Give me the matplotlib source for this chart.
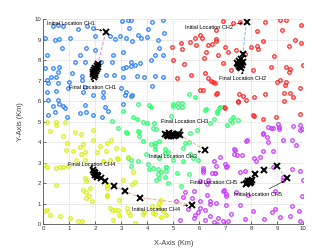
import numpy as np
import matplotlib
matplotlib.use('Agg')
import matplotlib.pyplot as plt

plt.rcParams['font.family'] = ['Liberation Sans', 'DejaVu Sans']

# sensor nodes of each cluster (km)
ch1_nodes = [(0.38, 9.67), (0.58, 9.7), (0.77, 9.67), (1.35, 9.5), (1.67, 9.65), (1.92, 9.55), (3.03, 9.9),
             (3.27, 9.98), (3.31, 9.55), (0.06, 9.06), (0.45, 9.0), (0.62, 9.05), (1.03, 9.1), (1.99, 9.2),
             (2.56, 9.2), (2.76, 9.05), (2.97, 9.18), (3.18, 9.06), (3.4, 8.93), (0.74, 8.57), (1.64, 8.57),
             (1.99, 8.49), (3.08, 8.38), (2.69, 8.25), (0.13, 8.24), (1.41, 8.24), (1.22, 7.92), (1.6, 7.92),
             (2.24, 7.92), (2.63, 7.92), (3.36, 7.92), (0.36, 7.64), (0.62, 7.67), (0.06, 7.64), (3.08, 7.6),
             (3.2, 7.67), (0.55, 7.4), (0.29, 7.19), (1.09, 7.35), (1.51, 7.24), (2.41, 7.27), (2.73, 7.27),
             (3.08, 7.19), (0.49, 7.19), (0.13, 7.03), (1.51, 7.03), (0.19, 6.86), (0.58, 6.86), (1.0, 6.91),
             (0.96, 6.65), (1.6, 6.7), (3.01, 6.62), (0.13, 6.45), (0.49, 6.49), (1.54, 6.45), (2.31, 6.42),
             (3.18, 6.45), (1.92, 6.29), (2.31, 6.21), (3.14, 6.29), (3.4, 6.29), (0.19, 6.05), (0.58, 6.05),
             (0.62, 5.88), (0.77, 5.77), (0.83, 5.67), (0.38, 5.77), (1.6, 5.8), (2.37, 5.72), (3.08, 5.85),
             (0.45, 5.45), (0.19, 5.32), (1.41, 5.4), (1.64, 5.45), (1.92, 5.32), (2.28, 5.24), (0.9, 5.2),
             (2.5, 5.5), (3.39, 9.95), (4.18, 9.84), (4.61, 9.97), (3.64, 9.25), (3.75, 9.09), (4.0, 9.14),
             (4.03, 9.54), (4.44, 8.6), (4.31, 8.24), (4.13, 8.03), (3.71, 7.87), (3.36, 7.72), (3.52, 7.76),
             (3.62, 7.22), (3.88, 7.19), (4.31, 7.22), (4.18, 6.75), (3.39, 6.25), (4.65, 9.3), (4.6, 8.27),
             (4.6, 7.2), (4.4, 9.0)]

ch2_nodes = [(6.91, 9.9), (7.3, 9.79), (7.56, 9.84), (8.52, 9.84), (9.09, 9.97), (9.33, 9.95), (9.93, 9.71),
             (6.66, 9.46), (8.22, 9.4), (9.18, 9.46), (8.45, 8.93), (9.67, 8.97), (6.63, 8.93), (9.45, 8.7),
             (9.93, 8.82), (6.98, 8.62), (8.0, 8.62), (8.22, 8.7), (8.26, 8.52), (7.11, 8.41), (7.75, 8.28),
             (8.88, 8.21), (6.72, 8.25), (7.43, 8.5), (9.99, 7.76), (9.35, 7.67), (9.5, 7.59), (6.91, 7.84),
             (8.07, 7.51), (8.75, 7.67), (7.24, 7.51), (6.53, 6.94), (9.45, 7.43), (9.09, 7.02), (8.99, 6.94),
             (9.29, 6.81), (9.33, 6.94), (9.86, 6.62), (6.66, 6.34), (7.53, 6.34), (7.81, 6.05), (8.09, 6.21),
             (8.52, 6.34), (9.26, 6.38), (9.5, 6.38), (9.6, 6.21), (7.68, 6.26), (9.25, 6.0), (7.49, 6.0),
             (9.86, 5.35), (6.98, 5.68), (8.07, 5.32), (8.45, 5.15), (8.97, 5.24), (4.95, 8.62), (5.31, 8.86),
             (5.34, 8.53), (5.63, 8.89), (5.82, 9.09), (5.89, 8.76), (6.05, 9.22), (6.11, 9.09), (6.34, 8.73),
             (6.49, 8.81), (6.66, 9.02), (6.27, 8.41), (6.18, 8.11), (4.99, 8.03), (5.41, 7.79), (5.7, 7.27),
             (5.16, 7.11), (6.21, 7.35), (6.34, 7.14), (6.47, 6.98), (6.62, 6.86), (6.05, 6.54), (6.14, 6.54),
             (6.7, 6.38), (6.96, 5.69), (7.48, 5.97), (8.1, 5.27)]

ch3_nodes = [(3.66, 5.86), (4.08, 5.81), (4.13, 5.7), (5.0, 5.76), (5.2, 5.73), (5.33, 5.89), (5.62, 6.35),
             (5.84, 6.18), (6.22, 5.56), (6.67, 5.4), (6.77, 5.65), (3.08, 5.53), (3.47, 5.24), (3.59, 5.11),
             (3.85, 4.99), (4.0, 4.91), (4.27, 4.91), (4.9, 5.27), (2.63, 5.04), (3.21, 4.46), (3.7, 4.47),
             (4.34, 4.62), (5.65, 4.46), (5.9, 4.59), (6.42, 4.91), (6.57, 5.11), (7.06, 4.83), (7.25, 4.99),
             (7.31, 5.24), (3.85, 4.07), (4.3, 3.81), (4.47, 4.07), (5.45, 3.94), (5.62, 4.02), (5.39, 3.7),
             (4.68, 3.45), (5.65, 3.42), (5.39, 3.09), (5.77, 3.21), (4.08, 2.67), (4.43, 2.67), (4.72, 2.77),
             (4.98, 3.13), (3.27, 3.21), (5.62, 2.44), (5.97, 3.12), (3.64, 4.52), (3.67, 4.28), (4.22, 4.68),
             (4.16, 3.9), (4.7, 3.67), (4.8, 3.54), (4.52, 2.54), (5.16, 2.49), (5.31, 1.84), (4.8, 2.0),
             (4.35, 2.16), (3.39, 3.14), (3.39, 2.81), (3.64, 3.06), (2.89, 4.7), (3.18, 4.5), (4.3, 3.94),
             (4.3, 3.66), (3.97, 3.4), (4.46, 3.2), (4.04, 2.91), (4.23, 2.72), (4.42, 2.42), (4.68, 2.31),
             (4.46, 2.23), (4.72, 2.8), (4.74, 2.59), (5.0, 5.85), (5.2, 5.9), (5.35, 5.7), (6.25, 5.6),
             (6.8, 5.7), (6.7, 5.5), (7.2, 5.07), (7.5, 5.07)]

ch4_nodes = [(0.13, 4.97), (0.49, 4.97), (0.83, 5.0), (0.51, 4.81), (0.26, 4.52), (1.22, 4.49), (1.44, 4.39),
             (0.77, 4.28), (0.9, 3.95), (1.54, 3.9), (1.92, 4.11), (0.87, 3.63), (1.15, 3.58), (1.41, 3.74),
             (1.44, 3.41), (1.6, 3.54), (2.05, 3.54), (2.18, 3.79), (2.44, 3.95), (2.41, 3.58), (2.79, 3.71),
             (3.05, 3.67), (0.02, 2.89), (0.13, 2.76), (0.49, 2.73), (0.64, 2.76), (0.77, 2.76), (0.96, 2.81),
             (1.28, 3.14), (1.6, 3.14), (2.31, 3.09), (2.56, 3.14), (2.88, 3.19), (0.51, 1.92), (1.6, 2.24),
             (1.64, 2.08), (1.54, 1.67), (1.64, 1.56), (1.79, 1.75), (1.77, 1.35), (1.64, 1.27), (2.44, 1.92),
             (2.44, 1.75), (0.02, 0.62), (0.13, 0.7), (0.26, 0.45), (0.64, 0.37), (1.03, 0.29), (1.35, 0.13),
             (1.51, 0.13), (2.56, 0.78), (2.76, 0.7), (2.92, 0.45), (3.21, 0.78), (3.33, 0.45), (1.86, 1.14),
             (2.44, 1.43), (1.92, 4.59), (2.6, 4.1), (2.82, 3.2), (3.27, 3.29), (3.05, 2.15), (3.44, 2.55),
             (3.53, 2.07), (2.46, 1.38), (2.92, 1.17), (2.63, 0.68), (2.86, 0.68), (3.27, 0.57), (3.85, 0.47),
             (3.53, 0.05), (4.3, 0.47), (4.42, 0.85), (4.55, 1.17), (4.62, 0.63), (4.46, 1.04), (4.17, 0.88),
             (4.72, 0.44), (4.55, 0.33), (3.4, 1.94), (3.87, 0.6), (4.23, 0.52), (2.69, 0.2)]

ch5_nodes = [(9.03, 4.88), (9.89, 4.84), (9.89, 4.6), (8.77, 4.68), (8.45, 4.39), (8.61, 4.23), (8.65, 4.0),
             (9.22, 4.11), (9.58, 4.11), (9.71, 3.84), (7.81, 4.03), (7.36, 3.62), (7.66, 3.38), (8.45, 3.58),
             (8.11, 3.22), (8.17, 3.09), (8.32, 3.25), (8.84, 3.58), (7.07, 2.81), (9.58, 2.7), (9.89, 2.6),
             (7.56, 2.54), (7.75, 2.57), (8.84, 2.76), (9.22, 2.16), (9.99, 2.16), (6.59, 2.49), (6.91, 1.59),
             (7.02, 1.46), (7.43, 1.56), (7.88, 1.43), (8.9, 1.59), (9.97, 1.35), (6.66, 1.02), (7.04, 0.91),
             (7.58, 0.91), (8.9, 0.75), (8.07, 0.62), (8.81, 0.59), (9.58, 0.86), (9.84, 0.62), (7.24, 0.49),
             (6.72, 0.29), (6.91, 0.16), (7.11, 0.13), (7.75, 0.26), (8.48, 0.26), (9.09, 0.32), (9.86, 0.16),
             (9.48, 0.37), (9.22, 2.28), (6.14, 2.54), (6.05, 2.11), (6.31, 1.95), (5.8, 1.63), (5.47, 1.56),
             (5.72, 1.27), (6.05, 1.14), (6.31, 1.4), (6.4, 1.14), (5.57, 0.75), (5.95, 0.59), (6.02, 0.78),
             (5.12, 1.1), (6.21, 0.7), (5.8, 0.29), (6.21, 0.21), (6.4, 0.37), (5.25, 0.21), (6.66, 2.81),
             (6.57, 3.06), (6.14, 2.73), (5.39, 1.33), (6.58, 0.08), (6.67, 0.02), (6.41, 0.96), (5.83, 0.44),
             (6.96, 1.66), (7.05, 1.38), (6.35, 2.15), (6.5, 2.47), (6.8, 3.28), (7.05, 2.8), (7.35, 3.4),
             (7.82, 4.1), (8.46, 4.42), (8.85, 4.7), (9.06, 4.63), (9.96, 4.63), (7.34, 3.65), (7.44, 3.37),
             (6.99, 2.93), (6.16, 2.64), (6.61, 2.51), (8.65, 4.73), (9.07, 4.73), (9.6, 4.8)]

# cluster head positions, first = initial location
ch1_path = [(2.41, 9.38), (2.1, 7.8), (2.05, 7.7), (2.0, 7.6), (1.95, 7.5), (2.02, 7.45), (1.98, 7.35),
            (1.92, 7.3), (1.95, 7.2), (2.05, 7.55), (2.1, 7.65), (1.9, 7.4), (2.0, 7.25)]
ch2_path = [(7.82, 9.88), (7.68, 8.3), (7.62, 8.05), (7.55, 7.95), (7.6, 7.85), (7.5, 7.8), (7.65, 7.75),
            (7.58, 7.65), (7.52, 7.7), (7.62, 7.6), (7.7, 7.9), (7.45, 7.85)]
ch3_path = [(6.21, 3.62), (5.25, 4.35), (5.18, 4.4), (5.1, 4.33), (5.0, 4.4), (4.9, 4.3), (4.85, 4.42),
            (4.75, 4.35), (4.7, 4.4), (4.95, 4.38), (5.05, 4.28), (4.8, 4.3)]
ch4_path = [(5.73, 0.95), (3.73, 1.29), (3.14, 1.61), (2.73, 1.88), (2.37, 2.1), (2.22, 2.25), (2.12, 2.32),
            (2.05, 2.4), (2.0, 2.5), (1.95, 2.55), (1.9, 2.65), (2.08, 2.28), (1.98, 2.38)]
ch5_path = [(9.37, 2.24), (8.98, 2.82), (8.48, 2.63), (8.14, 2.42), (8.02, 2.15), (7.95, 2.1), (7.9, 2.05),
            (7.85, 2.0), (7.8, 1.95), (7.95, 1.98), (8.0, 2.05), (7.88, 2.1)]

node_colors = ['#2a7fff', '#ff2424', '#24ff6a', '#d6f000', '#c836ff']
path_colors = ['#e08ae0', '#8ab8e6', '#f5b48a', '#f5a68a', '#a8d88a']

fig = plt.figure(figsize=(3.35, 2.52), dpi=100)
ax = fig.add_axes([0.129, 0.111, 0.776, 0.813])

for nodes, c in zip([ch1_nodes, ch2_nodes, ch3_nodes, ch4_nodes, ch5_nodes], node_colors):
    pts = np.array(nodes)
    ax.plot(pts[:, 0], pts[:, 1], 'o', ms=2.5, mfc='none', mec=c, mew=0.9, zorder=2)

for path, c in zip([ch1_path, ch2_path, ch3_path, ch4_path, ch5_path], path_colors):
    pts = np.array(path)
    ax.plot(pts[:, 0], pts[:, 1], '--', color=c, lw=0.7, zorder=3)
    ax.plot(pts[:, 0], pts[:, 1], 'x', color='black', ms=4, mew=1.4, zorder=4)

arrow = dict(arrowstyle='-|>', color='black', lw=0.4, mutation_scale=3, shrinkA=0.5, shrinkB=1)
fs = 4
ax.annotate('Initial Location CH1', xy=(2.33, 9.42), xytext=(2.0, 9.78), fontsize=fs, ha='right', va='center', arrowprops=arrow)
ax.annotate('Final Location CH1', xy=(1.93, 7.12), xytext=(1.88, 6.65), fontsize=fs, ha='center', va='center', arrowprops=arrow)
ax.annotate('Initial Location CH2', xy=(7.72, 9.82), xytext=(7.31, 9.58), fontsize=fs, ha='right', va='center', arrowprops=arrow)
ax.annotate('Final Location CH2', xy=(7.66, 7.52), xytext=(7.66, 7.11), fontsize=fs, ha='center', va='center', arrowprops=arrow)
ax.annotate('Final Location CH3', xy=(5.27, 4.45), xytext=(5.43, 4.98), fontsize=fs, ha='center', va='center', arrowprops=arrow)
ax.annotate('Initial Location CH3', xy=(6.12, 3.56), xytext=(5.9, 3.3), fontsize=fs, ha='right', va='center', arrowprops=arrow)
ax.annotate('Final Location CH4', xy=(1.92, 2.68), xytext=(1.85, 2.89), fontsize=fs, ha='center', va='center', arrowprops=arrow)
ax.annotate('Initial Location CH4', xy=(5.64, 0.92), xytext=(5.26, 0.73), fontsize=fs, ha='right', va='center', arrowprops=arrow)
ax.annotate('Final Location CH5', xy=(7.76, 2.03), xytext=(7.44, 2.03), fontsize=fs, ha='right', va='center', arrowprops=arrow)
ax.annotate('Initial Location CH5', xy=(9.32, 2.13), xytext=(8.27, 1.45), fontsize=fs, ha='center', va='center', arrowprops=arrow)

ax.set_xlim(0, 10)
ax.set_ylim(0, 10)
ax.set_xticks(range(11))
ax.set_yticks(range(11))
ax.grid(True, color='#e3e3e3', lw=0.5)
ax.set_axisbelow(True)
ax.tick_params(direction='in', length=2, width=0.5, labelsize=4.3, colors='#333333', pad=1.5)
for s in ['top', 'right']:
    ax.spines[s].set_visible(False)
for s in ['left', 'bottom']:
    ax.spines[s].set_color('#555555')
    ax.spines[s].set_linewidth(0.6)

ax.set_xlabel('X-Axis (Km)', fontsize=5.3, color='#404040')
ax.set_ylabel('Y-Axis (Km)', fontsize=5.3, color='#404040')
ax.xaxis.set_label_coords(0.5, -0.078)
ax.yaxis.set_label_coords(-0.075, 0.5)

fig.savefig('out.png', dpi=100)
